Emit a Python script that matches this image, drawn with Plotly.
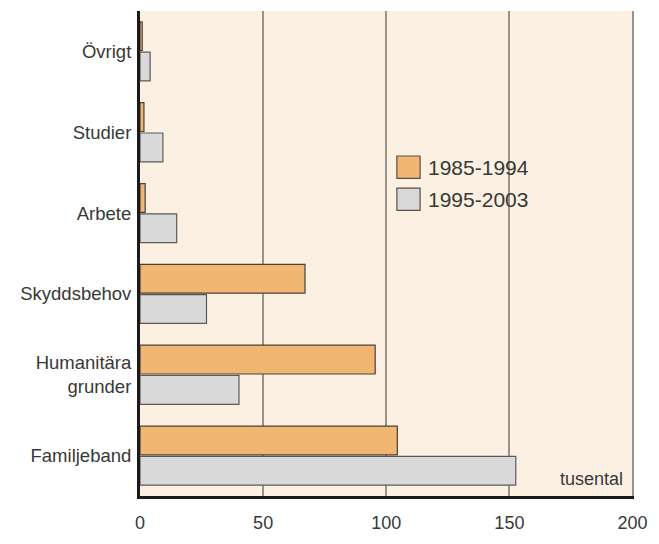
import plotly.graph_objects as go

# Skäl till bosättning, tusental
categories = ["Övrigt", "Studier", "Arbete", "Skyddsbehov", "Humanitära<br>grunder", "Familjeband"]
period_1 = [0.9, 1.6, 2.1, 67.0, 95.5, 104.5]
period_2 = [4.1, 9.3, 14.9, 27.0, 40.2, 152.6]
series_names = ["1985-1994", "1995-2003"]
x_ticks = [0, 50, 100, 150, 200]

ORANGE = "#F0B672"
GREY = "#D9D9D9"
FONT = "Liberation Sans, Arial, sans-serif"
TEXT = "#383838"

fig = go.Figure()
fig.add_trace(go.Bar(y=categories, x=period_1, orientation="h", name=series_names[0],
                     marker=dict(color=ORANGE, line=dict(color="#4a4038", width=1.2)),
                     showlegend=False))
fig.add_trace(go.Bar(y=categories, x=period_2, orientation="h", name=series_names[1],
                     marker=dict(color=GREY, line=dict(color="#5a5a5a", width=1.2)),
                     showlegend=False))

# legend drawn by hand so the boxes are as big as in the original
for i, (name, col) in enumerate(zip(series_names, [ORANGE, GREY])):
    y0 = 0.655 - i * 0.066
    fig.add_shape(type="rect", xref="paper", yref="paper",
                  x0=0.52, x1=0.567, y0=y0, y1=y0 + 0.046,
                  fillcolor=col, line=dict(color="#5a5048", width=1.2))
    fig.add_annotation(xref="paper", yref="paper", x=0.578, y=y0 + 0.023,
                       text=name, showarrow=False, xanchor="left", yanchor="middle",
                       font=dict(family=FONT, size=21, color=TEXT))

fig.add_annotation(xref="paper", yref="paper", x=0.982, y=0.01, text="tusental",
                   showarrow=False, xanchor="right", yanchor="bottom",
                   font=dict(family=FONT, size=18, color=TEXT))

fig.update_layout(
    width=659, height=544,
    margin=dict(l=140, r=16, t=11, b=30),
    paper_bgcolor="white",
    plot_bgcolor="#FCF0E3",
    barmode="group",
    bargap=0.25,
    bargroupgap=0.05,
    font=dict(family=FONT, size=18, color=TEXT),
)
# range a hair past 200 so the grid line at 200 is not clipped away
fig.update_xaxes(range=[0, 200.6], tickvals=x_ticks, showgrid=True, gridcolor="#9a938c",
                 gridwidth=1.5, zeroline=False, showline=True, linecolor="#1a1a1a",
                 linewidth=3, ticks="", ticklabelstandoff=8)
fig.update_yaxes(autorange="reversed", showgrid=False, zeroline=False, showline=True,
                 linecolor="#1a1a1a", linewidth=3, ticks="", ticklabelstandoff=2,
                 tickfont=dict(size=18.5))

# drop the browser's default body margin so the figure sits at 0,0
fig.write_html("out.html", config={"displayModeBar": False},
               post_script="document.body.style.margin='0';")
